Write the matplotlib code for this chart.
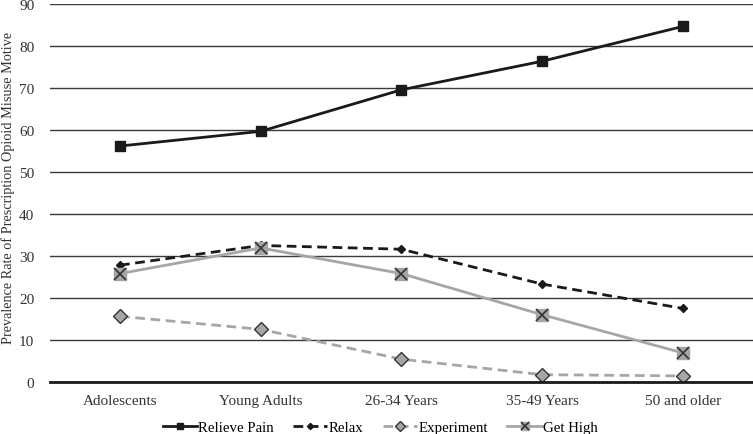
import matplotlib.pyplot as plt
from matplotlib.legend_handler import HandlerTuple

plt.rcParams['font.family'] = 'Liberation Serif'

categories = ["Adolescents", "Young Adults", "26-34 Years", "35-49 Years", "50 and older"]
relieve_pain = [56.2, 59.7, 69.6, 76.4, 84.7]
relax = [27.8, 32.5, 31.6, 23.3, 17.5]
experiment = [15.6, 12.5, 5.4, 1.7, 1.4]
get_high = [25.8, 31.9, 25.8, 16.0, 6.9]

black = '#1a1a1a'
gray = '#a6a6a6'

fig = plt.figure(figsize=(7.53, 4.35), dpi=100)
ax = fig.add_axes([0.066, 0.12, 0.934, 0.868])

x = list(range(len(categories)))

h1, = ax.plot(x, relieve_pain, color=black, lw=2, marker='s', ms=7, mfc=black, mec=black)
h2, = ax.plot(x, relax, color=black, lw=2, ls=(0, (3.5, 2)), marker='D', ms=4.5, mfc=black, mec=black)
h3, = ax.plot(x, experiment, color=gray, lw=2, ls=(0, (3.5, 2)), marker='D', ms=7, mfc=gray, mec='#333333', mew=1)
h4a, = ax.plot(x, get_high, color=gray, lw=2, marker='s', ms=9, mfc=gray, mec=gray)
h4b, = ax.plot(x, get_high, ls='none', marker='x', ms=9, mec='#333333', mew=1.2)

ax.set_xlim(-0.5, len(categories) - 0.5)
ax.set_ylim(0, 90)
ax.set_yticks(range(0, 91, 10))
ax.set_xticks(x)
ax.set_xticklabels(categories)
ax.tick_params(length=0, labelsize=11, colors='#333333')
ax.tick_params(axis='x', pad=9)
ax.tick_params(axis='y', pad=11)
ax.grid(axis='y', color='#3a3a3a', lw=1)
ax.set_axisbelow(True)
for s in ['top', 'right', 'left']:
    ax.spines[s].set_visible(False)
ax.spines['bottom'].set_color(black)
ax.spines['bottom'].set_linewidth(2)
ax.set_ylabel('Prevalence Rate of Prescription Opioid Misuse Motive', fontsize=10.3, color='#333333')
ax.yaxis.set_label_coords(-0.049, 0.516)

ax.legend([h1, h2, h3, (h4a, h4b)], ['Relieve Pain', 'Relax', 'Experiment', 'Get High'],
          handler_map={tuple: HandlerTuple(ndivide=1, pad=0)},
          loc='center', bbox_to_anchor=(0.47, -0.12), ncol=4, frameon=False,
          fontsize=10.7, handlelength=2.3, columnspacing=1.3, handletextpad=0.1,
          markerscale=0.7, borderpad=0, borderaxespad=0)

fig.savefig('out.png', dpi=100)
